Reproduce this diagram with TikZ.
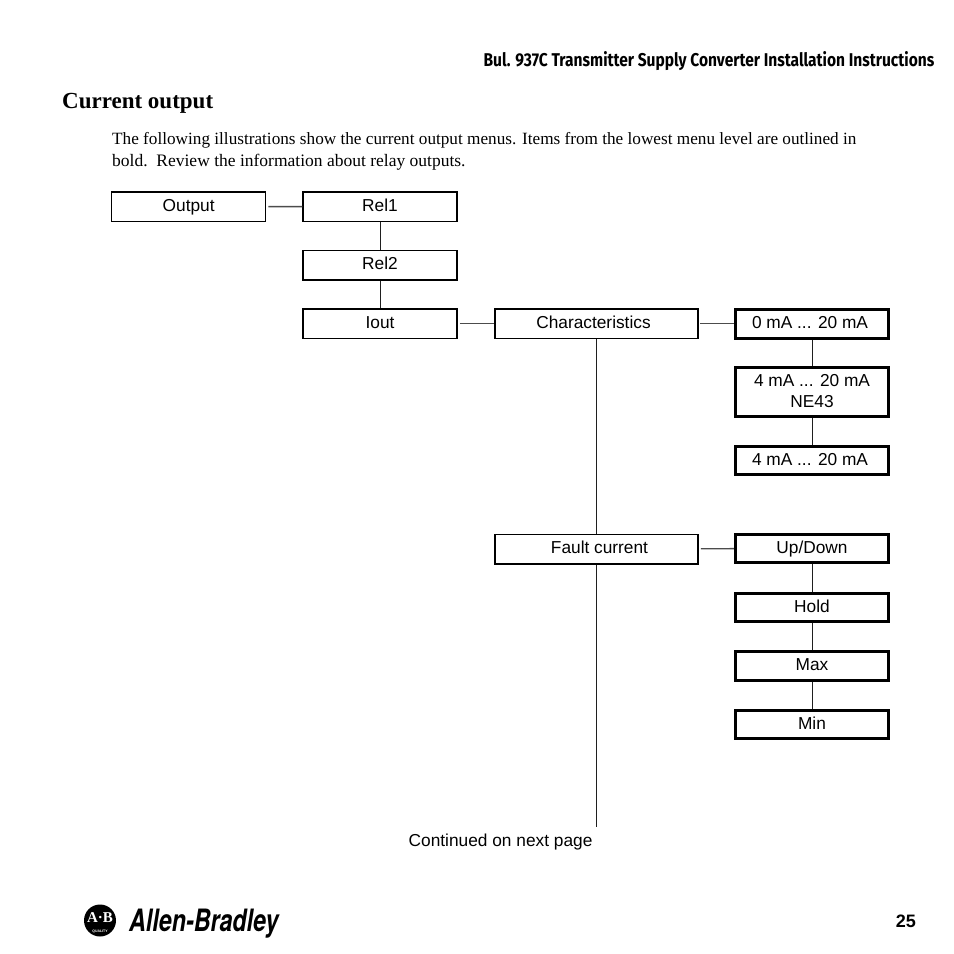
\documentclass[tikz,border=0pt]{standalone}
\usepackage{fontspec}
\setmainfont{Liberation Serif}
\newfontfamily\arialf{Liberation Sans}
\newfontfamily\headf{Fira Sans}
\newfontfamily\logof{TeX Gyre Heros}
\definecolor{conn}{gray}{0.12}
\definecolor{connh}{gray}{0.3}
\tikzset{
  x=1pt,y=-1pt,
  menubox/.style={draw=black,line width=1.5pt,fill=white,inner sep=0pt,font=\arialf\fontsize{17.3}{21}\selectfont,align=center,minimum width=154pt,minimum height=29.5pt,text height=9pt,text depth=0pt},
  widebox/.style={menubox,minimum width=203pt},
  leafbox/.style={menubox,line width=3pt,minimum width=153.5pt,minimum height=28.5pt},
  conn/.style={draw=conn,line width=1pt},
  connh/.style={draw=connh,line width=1.4pt},
  freetext/.style={inner sep=0pt,anchor=base west}
}
\begin{document}
\begin{tikzpicture}
\useasboundingbox (0,0) rectangle (954,954);
\fill[white] (0,0) rectangle (954,954);
% texts
\node[inner sep=0pt,anchor=base east] (head) at (934.5,66) {\scalebox{0.84}[1]{\headf\bfseries\fontsize{18.5}{22}\selectfont Bul. 937C Transmitter Supply Converter Installation Instructions}};
\node[freetext] (title) at (62,108.6) {\bfseries\fontsize{23}{26}\selectfont Current output};
\node[freetext] (para1) at (112,144) {\fontsize{17.2}{20}\selectfont The following illustrations show the current output menus. Items from the lowest menu level are outlined in};
\node[freetext] (para2) at (112,166) {\fontsize{17.5}{20}\selectfont bold.\ \ Review the information about relay outputs.};
% boxes
\node[menubox] (output) at (188.7,206.7) {Output};
\node[menubox] (rel1) at (380,206.5) {Rel1};
\node[menubox] (rel2) at (380,265) {Rel2};
\node[menubox] (iout) at (380,323.5) {Iout};
\node[widebox] (char) at (596.5,323.5) {\hspace{-6pt}Characteristics};
\node[widebox] (fault) at (596.5,549) {\hspace{6pt}Fault current};
\node[leafbox] (a) at (812,324) {\hspace{-4pt}0 mA ... 20 mA};
\node[leafbox,minimum height=49.5pt] (b) at (812,392) {};
\node[inner sep=0pt,align=center,font=\arialf\fontsize{17.3}{21}\selectfont] (btext) at (812,391.5) {4 mA ... 20 mA\\NE43};
\node[leafbox] (c) at (812,460.5) {\hspace{-4pt}4 mA ... 20 mA};
\node[leafbox] (up) at (812,548.5) {Up/Down};
\node[leafbox] (hold) at (812,607.5) {Hold};
\node[leafbox] (max) at (812,666) {Max};
\node[leafbox] (min) at (812,724.5) {Min};
\node[freetext] (cont) at (408.5,846) {\arialf\fontsize{17.3}{21}\selectfont Continued on next page};
\coordinate (end) at (596.5,827);
% connectors
\draw[connh,shorten <=2pt] (output) -- (rel1);
\draw[conn] (rel1) -- (rel2);
\draw[conn] (rel2) -- (iout);
\draw[connh,shorten <=2pt] (iout) -- (char);
\draw[conn] (char) -- (fault);
\draw[conn] (fault) -- (end);
\draw[connh,shorten <=1.5pt] (char.east) -- (a.west |- char.east);
\draw[conn] (a) -- (b);
\draw[conn] (b) -- (c);
\draw[connh,shorten <=2pt] (fault) -- (up);
\draw[conn] (up) -- (hold);
\draw[conn] (hold) -- (max);
\draw[conn] (max) -- (min);
% page number
\node[inner sep=0pt,anchor=base east] (page) at (916,927) {\arialf\bfseries\fontsize{18}{22}\selectfont 25};
% logo
\node[circle,fill=black,minimum size=32pt,inner sep=0pt] (seal) at (100,920.5) {};
\node[inner sep=0pt,text=white] (sealtext) at (100,917.5) {\bfseries\fontsize{15}{15}\selectfont A·B};
\node[inner sep=0pt,text=white] (sealq) at (100,932) {\arialf\bfseries\fontsize{3.5}{4}\selectfont QUALITY};
\node[inner sep=0pt,anchor=base west] (brand) at (129,931) {\scalebox{0.845}[1.12]{\logof\bfseries\itshape\fontsize{27.5}{30}\selectfont Allen-Bradley}};
\end{tikzpicture}
\end{document}
